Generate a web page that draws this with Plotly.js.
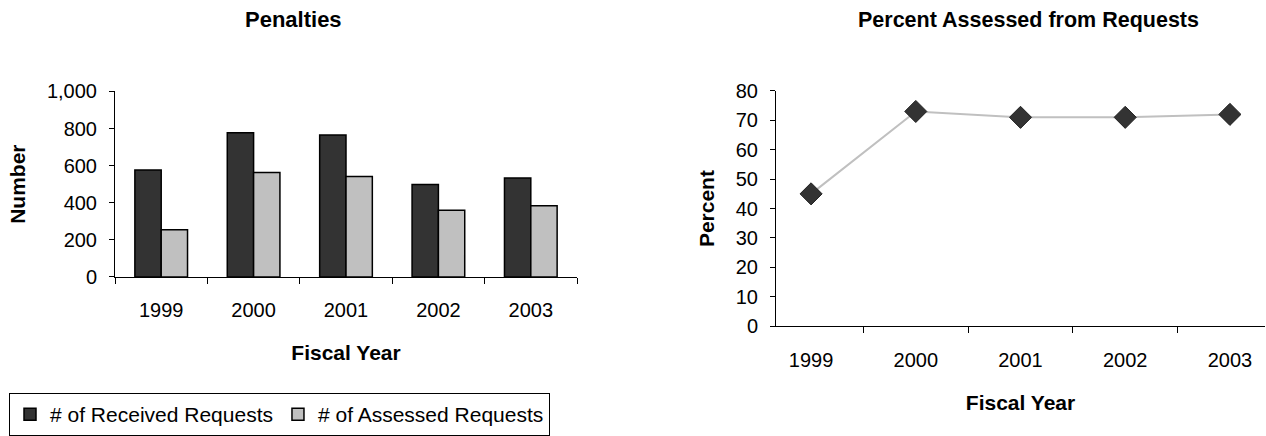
<!DOCTYPE html>
<html>
<head>
<meta charset="utf-8">
<script src="https://cdn.plot.ly/plotly-3.0.1.min.js"></script>
<style>
  html, body { margin: 0; padding: 0; background: #ffffff; }
  #chart { width: 1266px; height: 436px; }
</style>
</head>
<body>
<div id="chart"></div>
<script>
// Fiscal years shown on both panels
const fiscalYears = ['1999', '2000', '2001', '2002', '2003'];

// Penalty requests per fiscal year
const receivedRequests = [576, 778, 765, 499, 533];
const assessedRequests = [254, 563, 542, 360, 384];

// Share of requests that were assessed (%)
const percentAssessed = [45, 73, 71, 71, 72];

const FONT = 'Liberation Sans, Arial, sans-serif';

const traces = [
  {
    type: 'bar',
    name: '# of Received Requests',
    x: fiscalYears,
    y: receivedRequests,
    xaxis: 'x',
    yaxis: 'y',
    marker: { color: '#333333', line: { color: '#000000', width: 1.5 } },
    hoverinfo: 'x+y'
  },
  {
    type: 'bar',
    name: '# of Assessed Requests',
    x: fiscalYears,
    y: assessedRequests,
    xaxis: 'x',
    yaxis: 'y',
    marker: { color: '#c0c0c0', line: { color: '#000000', width: 1.5 } },
    hoverinfo: 'x+y'
  },
  {
    type: 'scatter',
    mode: 'lines+markers',
    name: 'Percent Assessed',
    x: fiscalYears,
    y: percentAssessed,
    xaxis: 'x2',
    yaxis: 'y2',
    showlegend: false,
    line: { color: '#c0c0c0', width: 2 },
    marker: { symbol: 'diamond', size: 17, color: '#333333', line: { color: '#222222', width: 1 } },
    cliponaxis: false
  }
];

const H = 436, W = 1266;
const px = v => v / W;
const py = v => 1 - v / H;

const tickFont = { family: FONT, size: 20, color: '#000000' };
const axTitleFont = { family: FONT, size: 21, color: '#000000', weight: 'bold' };

const layout = {
  width: W,
  height: H,
  margin: { l: 0, r: 0, t: 0, b: 0 },
  paper_bgcolor: '#ffffff',
  plot_bgcolor: '#ffffff',
  font: { family: FONT, color: '#000000' },
  barmode: 'group',
  bargap: 0.43,
  bargroupgap: 0,
  showlegend: true,
  legend: {
    orientation: 'h',
    x: px(9), y: py(397),
    xanchor: 'left', yanchor: 'top',
    bordercolor: '#000000', borderwidth: 1,
    font: { family: FONT, size: 21, color: '#000000' },
    itemwidth: 30,
    traceorder: 'normal'
  },
  xaxis: {
    domain: [px(115), px(577)],
    anchor: 'y',
    type: 'category',
    showline: true, linecolor: '#000000', linewidth: 1,
    ticks: 'outside', tickson: 'boundaries', ticklen: 6, tickcolor: '#000000',
    ticklabelstandoff: 15,
    tickfont: tickFont,
    showgrid: false, zeroline: false,
    title: { text: 'Fiscal Year', font: axTitleFont, standoff: 25 }
  },
  yaxis: {
    domain: [py(279.5), py(92.3)],
    anchor: 'x',
    range: [0, 1000],
    dtick: 200,
    tickformat: ',d',
    showline: true, linecolor: '#000000', linewidth: 1,
    ticks: 'outside', ticklen: 5, tickcolor: '#000000',
    ticklabelstandoff: 8,
    tickfont: tickFont,
    showgrid: false, zeroline: false,
    title: { text: 'Number', font: axTitleFont, standoff: 15 }
  },
  xaxis2: {
    domain: [px(776), px(1265)],
    anchor: 'y2',
    type: 'category',
    showline: true, linecolor: '#000000', linewidth: 1,
    ticks: 'outside', tickson: 'boundaries', ticklen: 6, tickcolor: '#000000',
    ticklabelstandoff: 16,
    tickfont: tickFont,
    showgrid: false, zeroline: false,
    title: { text: 'Fiscal Year', font: axTitleFont, standoff: 25 }
  },
  yaxis2: {
    domain: [py(329.3), py(91.7)],
    anchor: 'x2',
    range: [0, 80],
    dtick: 10,
    showline: true, linecolor: '#000000', linewidth: 1,
    ticks: 'outside', ticklen: 5, tickcolor: '#000000',
    ticklabelstandoff: 8,
    tickfont: tickFont,
    showgrid: false, zeroline: false,
    title: { text: 'Percent', font: axTitleFont, standoff: 15 }
  },
  annotations: [
    {
      text: 'Penalties', xref: 'paper', yref: 'paper',
      x: px(293), y: py(20), xanchor: 'center', yanchor: 'middle',
      showarrow: false,
      font: { family: FONT, size: 22, color: '#000000', weight: 'bold' }
    },
    {
      text: 'Percent Assessed from Requests', xref: 'paper', yref: 'paper',
      x: px(1028), y: py(20), xanchor: 'center', yanchor: 'middle',
      showarrow: false,
      font: { family: FONT, size: 21.5, color: '#000000', weight: 'bold' }
    }
  ]
};

Plotly.newPlot('chart', traces, layout, { displayModeBar: false, staticPlot: true });
</script>
</body>
</html>
